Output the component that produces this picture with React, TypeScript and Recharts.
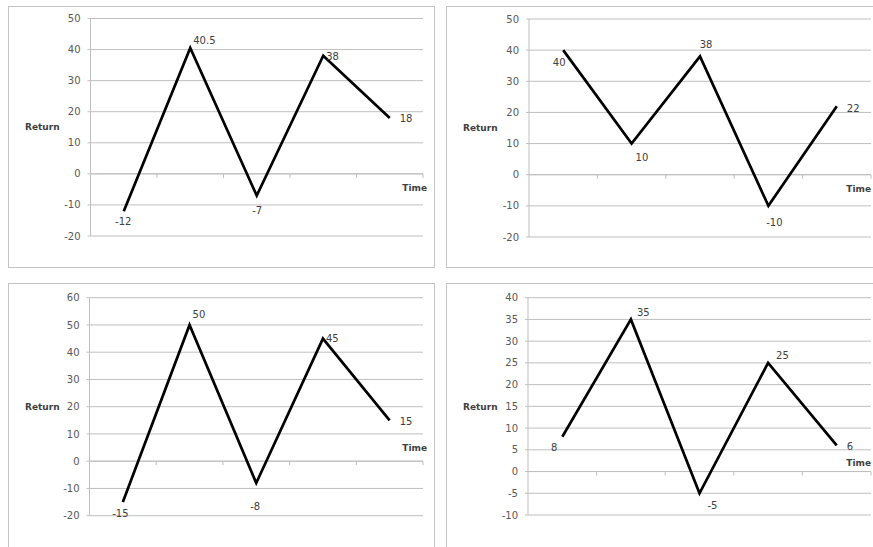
import { LineChart, Line, XAxis, YAxis, CartesianGrid, ReferenceLine, LabelList } from 'recharts'

// time steps shared by all four panels
const periods = ['1', '2', '3', '4', '5']

// returns
const returnsTopLeft = [-12, 40.5, -7, 38, 18]
const returnsTopRight = [40, 10, 38, -10, 22]
const returnsBottomLeft = [-15, 50, -8, 45, 15]
const returnsBottomRight = [8, 35, -5, 25, 6]

// y axis ticks
const ticksTop = [-20, -10, 0, 10, 20, 30, 40, 50]
const ticksBottomLeft = [-20, -10, 0, 10, 20, 30, 40, 50, 60]
const ticksBottomRight = [-10, -5, 0, 5, 10, 15, 20, 25, 30, 35, 40]

const GRID = '#bfbfbf'
const FONT = '"DejaVu Sans", sans-serif'

type LabelSpot = [number, number, 'start' | 'middle' | 'end']

interface PanelProps {
  values: number[]
  ticks: number[]
  box: { left: number; top: number; width: number; height: number }
  plot: { left: number; top: number; right: number; bottom: number }
  labelSpots: LabelSpot[]
  timeDx: number
  timeDy: number
}

function buildData(values: number[]) {
  return periods.map((t, i) => ({ t, v: values[i] }))
}

// x axis drawn on the zero line, with tick marks between the periods
function ZeroAxis(props: any) {
  const { x1, y1, x2, timeDx, timeDy } = props
  const step = (x2 - x1) / periods.length
  return (
    <g>
      <line x1={x1} y1={y1} x2={x2} y2={y1} stroke={GRID} strokeWidth={1} />
      {periods.map((p, i) => (
        <line key={p} x1={x1 + step * (i + 1)} y1={y1} x2={x1 + step * (i + 1)} y2={y1 + 4} stroke={GRID} />
      ))}
      <text x={x2 + timeDx} y={y1 + timeDy} textAnchor="end" dominantBaseline="central"
        fontFamily={FONT} fontSize={9} fontWeight="bold" fill="#404040">Time</text>
    </g>
  )
}

function Panel({ values, ticks, box, plot, labelSpots, timeDx, timeDy }: PanelProps) {
  const data = buildData(values)
  const axisWidth = plot.left - box.left - 17
  const margin = {
    left: 17,
    top: plot.top - box.top,
    right: box.left + box.width - plot.right,
    bottom: box.top + box.height - plot.bottom,
  }
  return (
    <div style={{ position: 'absolute', left: box.left, top: box.top, width: box.width, height: box.height }}>
      <div style={{ position: 'absolute', inset: 0, border: '1px solid #c4c4c4', boxSizing: 'border-box' }} />
      <div style={{ position: 'absolute', left: 0, top: 0 }}>
        <LineChart width={box.width} height={box.height} data={data} margin={margin}>
          <CartesianGrid vertical={false} stroke={GRID} />
          <XAxis dataKey="t" hide scale="band" />
          <YAxis
            width={axisWidth}
            domain={[ticks[0], ticks[ticks.length - 1]]}
            ticks={ticks}
            interval={0}
            axisLine={{ stroke: GRID }}
            tickLine={{ stroke: GRID }}
            tickSize={3}
            tickMargin={7}
            tick={{ fontFamily: FONT, fontSize: 10, fill: '#595959' }}
            label={{
              value: 'Return',
              position: 'insideLeft',
              offset: 0,
              angle: 0,
              style: { fontFamily: FONT, fontSize: 9, fontWeight: 'bold', fill: '#404040', textAnchor: 'start' },
            }}
          />
          <ReferenceLine y={0} shape={(p: any) => <ZeroAxis {...p} timeDx={timeDx} timeDy={timeDy} />} />
          <Line dataKey="v" stroke="#000" strokeWidth={2.7} dot={false} isAnimationActive={false}>
            <LabelList
              dataKey="v"
              content={(p: any) => {
                const spot = labelSpots[p.index] || [4, 0, 'start']
                return (
                  <text x={p.x + spot[0]} y={p.y + spot[1]} textAnchor={spot[2]} dominantBaseline="central"
                    fontFamily={FONT} fontSize={10} fill="#404040">{p.value}</text>
                )
              }}
            />
          </Line>
        </LineChart>
      </div>
    </div>
  )
}

export default function App() {
  return (
    <div style={{ position: 'fixed', left: 0, top: 0, width: 873, height: 547, overflow: 'hidden', background: '#fff' }}>
      <Panel
        values={returnsTopLeft}
        ticks={ticksTop}
        box={{ left: 8, top: 6, width: 427, height: 262 }}
        plot={{ left: 90.5, top: 18.5, right: 423, bottom: 236 }}
        labelSpots={[[-0.5, 10, 'middle'], [3, -8, 'start'], [0.5, 15, 'middle'], [3, 1, 'start'], [10, 1, 'start']]}
        timeDx={4}
        timeDy={14}
      />
      <Panel
        values={returnsTopRight}
        ticks={ticksTop}
        box={{ left: 446, top: 6, width: 440, height: 262 }}
        plot={{ left: 529, top: 19, right: 871, bottom: 237 }}
        labelSpots={[[-4, 12, 'middle'], [4, 14, 'start'], [6, -12, 'middle'], [6, 17, 'middle'], [10, 2, 'start']]}
        timeDx={0}
        timeDy={14}
      />
      <Panel
        values={returnsBottomLeft}
        ticks={ticksBottomLeft}
        box={{ left: 8, top: 283, width: 427, height: 280 }}
        plot={{ left: 89.5, top: 297.7, right: 423, bottom: 515.7 }}
        labelSpots={[[-2.5, 11, 'middle'], [3, -10, 'start'], [-1, 23, 'middle'], [3, 0, 'start'], [10, 1, 'start']]}
        timeDx={4}
        timeDy={-13}
      />
      <Panel
        values={returnsBottomRight}
        ticks={ticksBottomRight}
        box={{ left: 446, top: 283, width: 440, height: 280 }}
        plot={{ left: 528, top: 297.7, right: 871, bottom: 515 }}
        labelSpots={[[-8, 11, 'middle'], [6, -7, 'start'], [8, 12, 'start'], [8, -7, 'start'], [10, 1, 'start']]}
        timeDx={0}
        timeDy={-9}
      />
    </div>
  )
}
